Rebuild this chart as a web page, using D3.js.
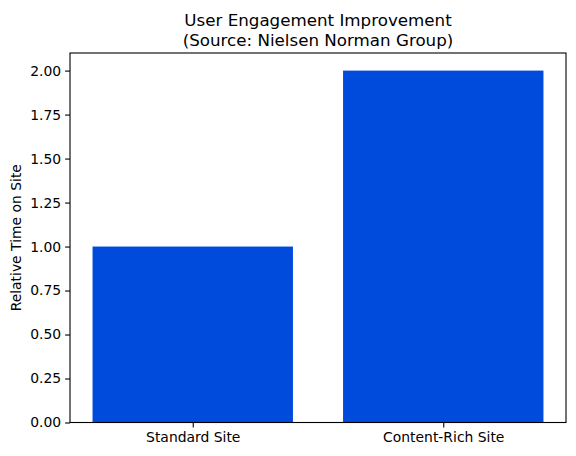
<!DOCTYPE html>
<html>
<head>
<meta charset="utf-8">
<script src="https://cdn.jsdelivr.net/npm/d3@7"></script>
<style>
  body { margin: 0; background: #fff; }
  text { font-family: "DejaVu Sans", sans-serif; fill: #000; }
</style>
</head>
<body>
<svg id="chart"></svg>
<script>
// chart data
const categories = ["Standard Site", "Content-Rich Site"];
const values = [1.0, 2.0];
const yTicks = [0, 0.25, 0.5, 0.75, 1.0, 1.25, 1.5, 1.75, 2.0];
const titleLines = ["User Engagement Improvement", "(Source: Nielsen Norman Group)"];
const yLabel = "Relative Time on Site";

const W = 576, H = 456;
const margin = {left: 70, right: 10, top: 53, bottom: 33.5};
const width = W - margin.left - margin.right;
const height = H - margin.top - margin.bottom;

const svg = d3.select("#chart").attr("width", W).attr("height", H);
const g = svg.append("g").attr("transform", "translate(" + margin.left + "," + margin.top + ")");

// matplotlib style: bars at 0,1 width 0.8, 5% margins
const xScale = d3.scaleLinear().domain([-0.49, 1.49]).range([0, width]);
const yScale = d3.scaleLinear().domain([0, 2.1]).range([height, 0]);

g.selectAll("rect.bar")
  .data(values)
  .join("rect")
  .attr("class", "bar")
  .attr("x", (d, i) => xScale(i - 0.4))
  .attr("width", xScale(0.4) - xScale(-0.4))
  .attr("y", d => yScale(d))
  .attr("height", d => yScale(0) - yScale(d))
  .attr("fill", "#004ADC");

// y axis
const yAxis = d3.axisLeft(yScale)
  .tickValues(yTicks)
  .tickFormat(d3.format(".2f"))
  .tickSize(4.9)
  .tickPadding(4);
const yG = g.append("g").call(yAxis);
yG.select(".domain").remove();
yG.selectAll("line").attr("stroke", "#000").attr("stroke-width", 1.1);
yG.selectAll("text").style("font-size", "13.9px").style("font-family", "DejaVu Sans");

// x axis
const xAxis = d3.axisBottom(xScale)
  .tickValues([0, 1])
  .tickFormat((d, i) => categories[i])
  .tickSize(4.9)
  .tickPadding(5.2);
const xG = g.append("g").attr("transform", "translate(0," + height + ")").call(xAxis);
xG.select(".domain").remove();
xG.selectAll("line").attr("stroke", "#000").attr("stroke-width", 1.1);
xG.selectAll("text").style("font-size", "13.9px").style("font-family", "DejaVu Sans");

// spines
g.append("rect")
  .attr("x", 0).attr("y", 0)
  .attr("width", width).attr("height", height)
  .attr("fill", "none")
  .attr("stroke", "#000")
  .attr("stroke-width", 1.1);

// title
svg.append("g").selectAll("text")
  .data(titleLines)
  .join("text")
  .attr("x", margin.left + width / 2)
  .attr("y", (d, i) => 25.5 + i * 20)
  .attr("text-anchor", "middle")
  .style("font-size", "16.7px")
  .text(d => d);

// y label
svg.append("text")
  .attr("transform", "translate(21," + (margin.top + height / 2) + ") rotate(-90)")
  .attr("text-anchor", "middle")
  .style("font-size", "13.9px")
  .text(yLabel);
</script>
</body>
</html>
